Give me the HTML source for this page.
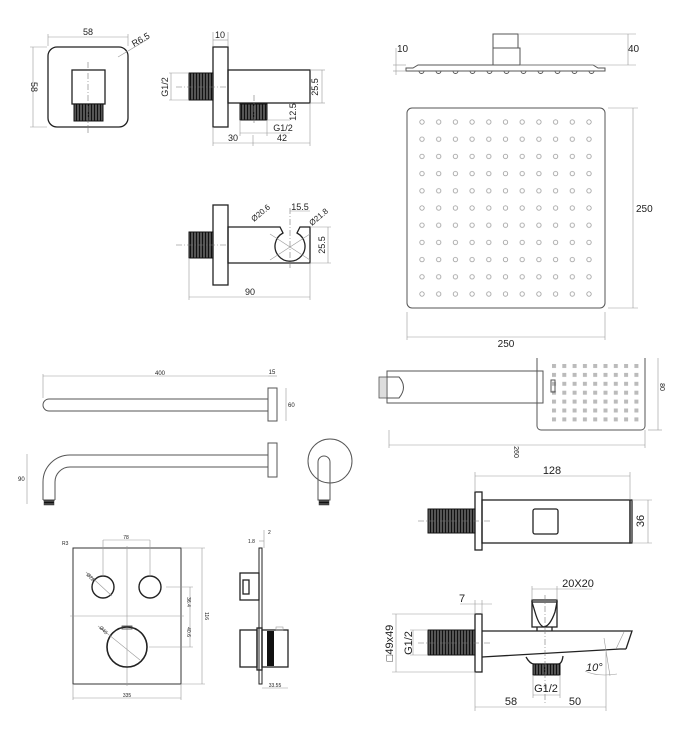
<!DOCTYPE html>
<html><head><meta charset="utf-8"><style>
html,body{margin:0;padding:0;background:#fff;width:678px;height:730px;overflow:hidden}
svg{display:block}
text{font-family:"Liberation Sans",sans-serif;fill:#222}
.l{stroke:#222;stroke-width:1.3;fill:none}
.t{stroke:#999;stroke-width:0.6;fill:none}
.c{stroke:#777;stroke-width:0.6;stroke-dasharray:6 2 1 2;fill:none}
.g{stroke:#555;stroke-width:1;fill:none}
</style></head><body>
<svg width="678" height="730" viewBox="0 0 678 730" xmlns="http://www.w3.org/2000/svg">
<defs>
<pattern id="thr" width="3" height="3" patternUnits="userSpaceOnUse"><rect width="3" height="3" fill="#555"/><line x1="1.5" y1="0" x2="1.5" y2="3" stroke="#111" stroke-width="1"/></pattern>
<pattern id="thrh" width="3" height="3" patternUnits="userSpaceOnUse"><rect width="3" height="3" fill="#444"/><line x1="0" y1="1.5" x2="3" y2="1.5" stroke="#111" stroke-width="1"/></pattern>
<pattern id="dots" x="422" y="122" width="16.7" height="17.2" patternUnits="userSpaceOnUse"><circle cx="0" cy="0" r="2.2" fill="none" stroke="#999" stroke-width="0.8"/><circle cx="16.7" cy="0" r="2.2" fill="none" stroke="#999" stroke-width="0.8"/><circle cx="0" cy="17.2" r="2.2" fill="none" stroke="#999" stroke-width="0.8"/><circle cx="16.7" cy="17.2" r="2.2" fill="none" stroke="#999" stroke-width="0.8"/></pattern>
<pattern id="sq" x="552" y="364" width="10.3" height="8.9" patternUnits="userSpaceOnUse"><rect x="0" y="0" width="4" height="4" fill="#bbb"/></pattern>
</defs>

<!-- Top-left square plate -->
<rect x="48" y="47" width="80" height="80" rx="9" class="l"/>
<rect x="72" y="70" width="33" height="34" class="l"/>
<rect x="74" y="104" width="29" height="17" fill="url(#thr)" stroke="#111"/>
<line x1="88" y1="62" x2="88" y2="133" class="c"/>
<line x1="48" y1="37" x2="128" y2="37" class="t"/><line x1="48" y1="34" x2="48" y2="46" class="t"/><line x1="128" y1="34" x2="128" y2="46" class="t"/>
<text x="88" y="35" font-size="9" text-anchor="middle">58</text>
<line x1="33" y1="47" x2="33" y2="127" class="t"/><line x1="30" y1="47" x2="47" y2="47" class="t"/><line x1="30" y1="127" x2="47" y2="127" class="t"/>
<text x="0" y="0" font-size="9" text-anchor="middle" transform="translate(31,87) rotate(90)">58</text>
<line x1="118" y1="57" x2="148" y2="39" class="t"/>
<text x="0" y="0" font-size="9" transform="translate(134,47) rotate(-30)">R6.5</text>

<!-- Side view of outlet -->
<rect x="213" y="47" width="15" height="80" class="l"/>
<rect x="228" y="70" width="82" height="33" class="l"/>
<rect x="189" y="73" width="24" height="27" fill="url(#thr)" stroke="#111"/>
<rect x="240" y="104" width="27" height="16" fill="url(#thr)" stroke="#111"/>
<line x1="176" y1="87" x2="228" y2="87" class="c"/>
<line x1="254" y1="95" x2="254" y2="125" class="c"/>
<line x1="213" y1="40" x2="228" y2="40" class="t"/><line x1="213" y1="32" x2="213" y2="46" class="t"/><line x1="228" y1="32" x2="228" y2="46" class="t"/>
<text x="220" y="38" font-size="9" text-anchor="middle">10</text>
<line x1="171" y1="73" x2="171" y2="100" class="t"/><line x1="169" y1="73" x2="189" y2="73" class="t"/><line x1="169" y1="100" x2="189" y2="100" class="t"/>
<text x="0" y="0" font-size="9" text-anchor="middle" transform="translate(168,87) rotate(-90)">G1/2</text>
<line x1="322" y1="70" x2="322" y2="103" class="t"/><line x1="310" y1="70" x2="325" y2="70" class="t"/><line x1="310" y1="103" x2="325" y2="103" class="t"/>
<text x="0" y="0" font-size="9" text-anchor="middle" transform="translate(318,87) rotate(-90)">25.5</text>
<text x="0" y="0" font-size="9" text-anchor="middle" transform="translate(296,112) rotate(-90)">12.5</text>
<line x1="267" y1="120" x2="290" y2="120" class="t"/>
<line x1="240" y1="133" x2="267" y2="133" class="t"/><line x1="240" y1="120" x2="240" y2="136" class="t"/><line x1="267" y1="120" x2="267" y2="136" class="t"/><line x1="267" y1="133" x2="290" y2="133" class="t"/>
<text x="283" y="131" font-size="9" text-anchor="middle">G1/2</text>
<line x1="213" y1="143" x2="310" y2="143" class="t"/><line x1="213" y1="127" x2="213" y2="146" class="t"/><line x1="253" y1="135" x2="253" y2="146" class="t"/><line x1="310" y1="103" x2="310" y2="146" class="t"/>
<text x="233" y="141" font-size="9" text-anchor="middle">30</text>
<text x="282" y="141" font-size="9" text-anchor="middle">42</text>

<!-- Holder -->
<rect x="213" y="205" width="15" height="80" class="l"/>
<path d="M228 227 H280 L283 233 A15 15 0 1 0 297 233 L300 227 H310 V263 H228 Z" class="l"/>
<rect x="189" y="232" width="24" height="26" fill="url(#thr)" stroke="#111"/>
<line x1="176" y1="245" x2="228" y2="245" class="c"/>
<line x1="290" y1="208" x2="290" y2="268" class="c"/>
<line x1="270" y1="234" x2="310" y2="260" class="t"/><line x1="270" y1="260" x2="310" y2="234" class="t"/>
<line x1="189" y1="297" x2="310" y2="297" class="t"/><line x1="189" y1="258" x2="189" y2="300" class="t"/><line x1="310" y1="263" x2="310" y2="300" class="t"/>
<text x="250" y="295" font-size="9" text-anchor="middle">90</text>
<line x1="328" y1="227" x2="328" y2="263" class="t"/><line x1="310" y1="227" x2="331" y2="227" class="t"/><line x1="310" y1="263" x2="331" y2="263" class="t"/>
<text x="0" y="0" font-size="9" text-anchor="middle" transform="translate(325,245) rotate(-90)">25.5</text>
<line x1="290" y1="211" x2="310" y2="211" class="t"/>
<text x="300" y="210" font-size="9" text-anchor="middle">15.5</text>
<text x="0" y="0" font-size="8" transform="translate(254,222) rotate(-40)">Ø20.6</text>
<text x="0" y="0" font-size="8" transform="translate(312,226) rotate(-40)">Ø21.8</text>

<!-- Shower head side -->
<rect x="493" y="34" width="25" height="14" class="g"/>
<rect x="493" y="48" width="27" height="17" class="g"/>
<path d="M406 71 H605 V68 H598 L593 65 H418 L413 68 H406 Z" class="g"/>
<g fill="none" stroke="#555" stroke-width="0.9">
<path d="M419 71 a2.5 2.5 0 0 0 5 0 M436 71 a2.5 2.5 0 0 0 5 0 M453 71 a2.5 2.5 0 0 0 5 0 M470 71 a2.5 2.5 0 0 0 5 0 M487 71 a2.5 2.5 0 0 0 5 0 M504 71 a2.5 2.5 0 0 0 5 0 M521 71 a2.5 2.5 0 0 0 5 0 M538 71 a2.5 2.5 0 0 0 5 0 M555 71 a2.5 2.5 0 0 0 5 0 M572 71 a2.5 2.5 0 0 0 5 0 M589 71 a2.5 2.5 0 0 0 5 0"/>
</g>
<line x1="518" y1="34" x2="636" y2="34" class="t"/><line x1="520" y1="65" x2="636" y2="65" class="t"/><line x1="628" y1="34" x2="628" y2="65" class="t"/>
<text x="628" y="52" font-size="10">40</text>
<line x1="396" y1="48" x2="396" y2="75" class="t"/><line x1="393" y1="65" x2="406" y2="65" class="t"/><line x1="393" y1="71" x2="406" y2="71" class="t"/>
<text x="397" y="52" font-size="10">10</text>

<!-- Shower head front -->
<rect x="407" y="108" width="198" height="200" rx="5" class="g"/>
<rect x="418" y="118" width="176" height="180" fill="url(#dots)"/>
<line x1="608" y1="108" x2="638" y2="108" class="t"/><line x1="608" y1="308" x2="638" y2="308" class="t"/><line x1="633" y1="108" x2="633" y2="308" class="t"/>
<text x="636" y="212" font-size="10">250</text>
<line x1="407" y1="312" x2="407" y2="340" class="t"/><line x1="605" y1="312" x2="605" y2="340" class="t"/><line x1="407" y1="337" x2="605" y2="337" class="t"/>
<text x="506" y="347" font-size="10" text-anchor="middle">250</text>

<!-- Arm top -->
<path d="M268 399 H49 A6 6 0 0 0 49 411 H268" class="g"/>
<rect x="268" y="388" width="9" height="33" class="g"/>
<line x1="43" y1="376" x2="268" y2="376" class="t"/><line x1="43" y1="374" x2="43" y2="398" class="t"/>
<text x="160" y="375" font-size="6" text-anchor="middle">400</text>
<line x1="268" y1="376" x2="277" y2="376" class="t"/>
<text x="272" y="374" font-size="6" text-anchor="middle">15</text>
<line x1="286" y1="388" x2="286" y2="421" class="t"/>
<text x="288" y="407" font-size="6">60</text>
<!-- Arm bottom -->
<rect x="268" y="443" width="9" height="34" class="g"/>
<path d="M268 455 H70 A27 27 0 0 0 43 482 V500 M268 467 H70 A15 15 0 0 0 55 482 V500 M43 500 H55" class="g"/>
<rect x="44" y="500" width="10" height="5" fill="url(#thrh)" stroke="#333" stroke-width="0.5"/>
<line x1="27" y1="454" x2="27" y2="504" class="t"/>
<text x="18" y="481" font-size="6">90</text>
<circle cx="330" cy="461" r="22" class="g"/>
<path d="M318 500 V462 A6 6 0 0 1 330 462 V500 Z" class="g"/>
<rect x="319" y="500" width="10" height="5" fill="url(#thrh)" stroke="#333" stroke-width="0.5"/>

<!-- Hand shower -->
<rect x="387" y="371" width="156" height="32" class="g"/>
<path d="M387 377 H399 Q408 387 399 398 H387" class="g"/>
<rect x="379" y="377" width="8" height="21" fill="#ddd" stroke="#555" stroke-width="0.8"/>
<path d="M537 358 V426 A4 4 0 0 0 541 430 H641 A4 4 0 0 0 645 426 V358" class="g"/>
<rect x="550" y="362" width="90" height="62" fill="url(#sq)"/>
<rect x="551" y="380" width="4" height="12" class="g"/>
<line x1="389" y1="445" x2="645" y2="445" class="t"/><line x1="389" y1="430" x2="389" y2="448" class="t"/><line x1="645" y1="430" x2="645" y2="448" class="t"/>
<text x="0" y="0" font-size="7" text-anchor="middle" transform="translate(514,452) rotate(90)">260</text>
<line x1="658" y1="358" x2="658" y2="430" class="t"/><line x1="648" y1="430" x2="662" y2="430" class="t"/>
<text x="0" y="0" font-size="7" text-anchor="middle" transform="translate(660,387) rotate(90)">80</text>

<!-- Thermostatic plate -->
<rect x="73" y="548" width="108" height="136" fill="none" stroke="#333" stroke-width="1"/>
<line x1="127" y1="546" x2="127" y2="686" class="t"/><line x1="70" y1="616" x2="184" y2="616" class="t"/>
<circle cx="103" cy="587" r="11" fill="none" stroke="#222" stroke-width="1.4"/>
<circle cx="150" cy="587" r="11" fill="none" stroke="#222" stroke-width="1.4"/>
<circle cx="127" cy="647" r="20" fill="none" stroke="#222" stroke-width="1.6"/>
<rect x="122" y="626" width="10" height="3" fill="none" stroke="#444" stroke-width="0.8"/>
<line x1="86" y1="572" x2="112" y2="596" class="t"/><line x1="98" y1="626" x2="140" y2="660" class="t"/>
<line x1="103" y1="540" x2="150" y2="540" class="t"/><line x1="103" y1="540" x2="103" y2="576" class="t"/><line x1="150" y1="540" x2="150" y2="576" class="t"/>
<text x="126" y="539" font-size="5" text-anchor="middle">78</text>
<text x="62" y="545" font-size="5">R3</text>
<text x="0" y="0" font-size="5" transform="translate(86,575) rotate(45)">Ø28</text>
<text x="0" y="0" font-size="5" transform="translate(99,628) rotate(45)">Ø45</text>
<line x1="181" y1="548" x2="205" y2="548" class="t"/><line x1="181" y1="684" x2="205" y2="684" class="t"/><line x1="202" y1="548" x2="202" y2="684" class="t"/>
<text x="0" y="0" font-size="5" text-anchor="middle" transform="translate(205,616) rotate(90)">116</text>
<line x1="166" y1="587" x2="193" y2="587" class="t"/><line x1="149" y1="647" x2="193" y2="647" class="t"/><line x1="190" y1="587" x2="190" y2="647" class="t"/>
<text x="0" y="0" font-size="5" text-anchor="middle" transform="translate(187,602) rotate(90)">36.4</text>
<text x="0" y="0" font-size="5" text-anchor="middle" transform="translate(187,632) rotate(90)">40.6</text>
<line x1="73" y1="698" x2="181" y2="698" class="t"/><line x1="73" y1="684" x2="73" y2="700" class="t"/><line x1="181" y1="684" x2="181" y2="700" class="t"/>
<text x="127" y="697" font-size="5" text-anchor="middle">335</text>
<!-- side -->
<rect x="259" y="548" width="3" height="136" fill="#fff" stroke="#222" stroke-width="1"/>
<rect x="240" y="573" width="19" height="27" class="l"/>
<rect x="243" y="580" width="6" height="14" class="l"/>
<rect x="240" y="630" width="17" height="37" class="l"/>
<rect x="257" y="628" width="5" height="42" class="l"/>
<rect x="262" y="630" width="26" height="37" class="l"/>
<rect x="267" y="631" width="7" height="35" fill="#111"/>
<rect x="276" y="627" width="7" height="3" class="t"/>
<line x1="262" y1="688" x2="288" y2="688" class="t"/>
<text x="275" y="687" font-size="5" text-anchor="middle">33.55</text>
<line x1="259" y1="541" x2="264" y2="541" class="t"/><line x1="264" y1="530" x2="264" y2="548" class="t"/>
<text x="248" y="543" font-size="5">1.8</text>
<text x="268" y="534" font-size="5">2</text>

<!-- Bath spout top view -->
<rect x="475" y="492" width="7" height="58" class="l"/>
<rect x="482" y="500" width="148" height="43" class="l"/>
<rect x="630" y="500" width="2" height="43" class="l"/>
<rect x="428" y="509" width="47" height="24" fill="url(#thr)" stroke="#111"/>
<line x1="418" y1="521" x2="492" y2="521" class="c"/>
<rect x="533" y="509" width="25" height="25" rx="2" class="l"/>
<line x1="475" y1="476" x2="630" y2="476" class="t"/><line x1="475" y1="472" x2="475" y2="492" class="t"/><line x1="630" y1="472" x2="630" y2="500" class="t"/>
<text x="552" y="474" font-size="11" text-anchor="middle">128</text>
<line x1="632" y1="500" x2="652" y2="500" class="t"/><line x1="632" y1="543" x2="652" y2="543" class="t"/><line x1="648" y1="500" x2="648" y2="543" class="t"/>
<text x="0" y="0" font-size="11" text-anchor="middle" transform="translate(644,521) rotate(-90)">36</text>

<!-- Bath spout side -->
<rect x="475" y="614" width="7" height="58" class="l"/>
<rect x="428" y="630" width="47" height="25" fill="url(#thr)" stroke="#111"/>
<line x1="418" y1="643" x2="492" y2="643" class="c"/>
<path d="M482 631 H632 L626 649 M482 657 L603 650 L620 649 L626 649" class="l"/>
<path d="M624 632 L616 649" class="t"/>
<path d="M526 657 Q530 664 534 664 H558 Q562 664 563 656" class="l"/>
<rect x="533" y="664" width="27" height="11" fill="url(#thr)" stroke="#111"/>
<path d="M532 602 H557 L555 612 Q550 626 544 627 Q539 626 535 612 Z" class="l"/>
<rect x="532" y="600" width="25" height="27" class="l"/>
<path d="M537 627 V631 M552 627 V631" class="l"/>
<line x1="545" y1="595" x2="545" y2="705" class="c"/>
<line x1="532" y1="589" x2="557" y2="589" class="t"/><line x1="532" y1="586" x2="532" y2="600" class="t"/><line x1="557" y1="586" x2="557" y2="600" class="t"/><line x1="557" y1="589" x2="592" y2="589" class="t"/>
<text x="578" y="587" font-size="11" text-anchor="middle">20X20</text>
<line x1="460" y1="604" x2="492" y2="604" class="t"/><line x1="475" y1="600" x2="475" y2="614" class="t"/><line x1="482" y1="600" x2="482" y2="614" class="t"/>
<text x="462" y="602" font-size="11" text-anchor="middle">7</text>
<line x1="410" y1="630" x2="428" y2="630" class="t"/><line x1="410" y1="655" x2="428" y2="655" class="t"/><line x1="413" y1="630" x2="413" y2="655" class="t"/>
<text x="0" y="0" font-size="11" text-anchor="middle" transform="translate(412,643) rotate(-90)">G1/2</text>
<line x1="392" y1="614" x2="475" y2="614" class="t"/><line x1="392" y1="672" x2="475" y2="672" class="t"/><line x1="396" y1="614" x2="396" y2="672" class="t"/>
<text x="0" y="0" font-size="11" text-anchor="middle" transform="translate(393,643) rotate(-90)">□49x49</text>
<line x1="533" y1="695" x2="560" y2="695" class="t"/><line x1="533" y1="675" x2="533" y2="698" class="t"/><line x1="560" y1="675" x2="560" y2="698" class="t"/>
<text x="546" y="692" font-size="11" text-anchor="middle">G1/2</text>
<path d="M604 638 L610 676 M585 671 Q597 677 617 674" class="t"/>
<text x="586" y="671" font-size="11" font-style="italic">10°</text>
<line x1="475" y1="707" x2="606" y2="707" class="t"/><line x1="475" y1="672" x2="475" y2="711" class="t"/><line x1="606" y1="652" x2="606" y2="711" class="t"/>
<text x="511" y="705" font-size="11" text-anchor="middle">58</text>
<text x="575" y="705" font-size="11" text-anchor="middle">50</text>
</svg>
</body></html>
